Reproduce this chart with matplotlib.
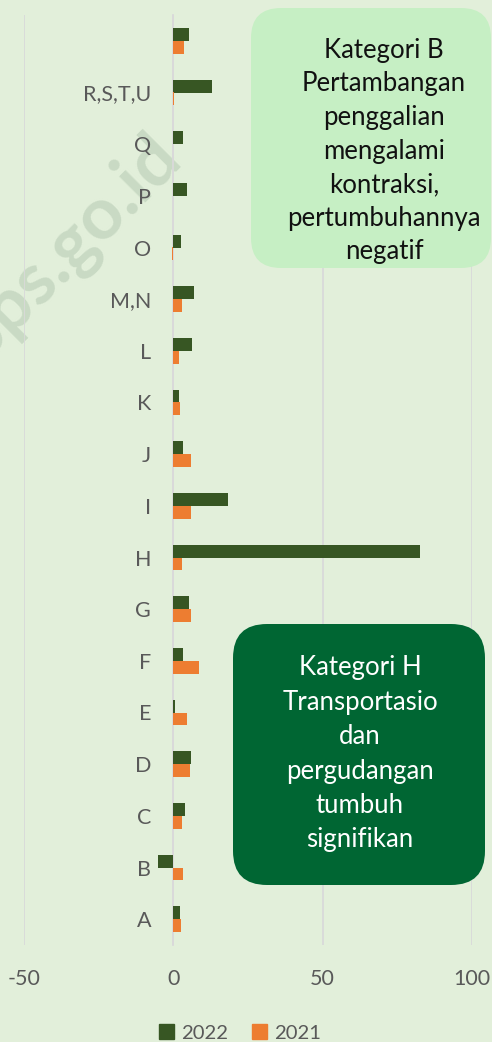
import matplotlib
matplotlib.use("Agg")
from matplotlib import pyplot as plt
from matplotlib.patches import FancyBboxPatch, Patch
from matplotlib.transforms import IdentityTransform
import numpy as np

plt.rcParams['font.family'] = ['Lato', 'DejaVu Sans']

# lapangan usaha (bawah ke atas), kategori paling atas tanpa label
categories = ['A', 'B', 'C', 'D', 'E', 'F', 'G', 'H', 'I', 'J', 'K', 'L',
              'M,N', 'O', 'P', 'Q', 'R,S,T,U', '']
v2022 = [2.3, -5.2, 4.0, 5.9, 0.7, 3.3, 5.3, 82.6, 18.4, 3.2, 2.0, 6.4,
         7.0, 2.7, 4.7, 3.4, 12.9, 5.3]
v2021 = [2.6, 3.1, 3.0, 5.6, 4.7, 8.5, 5.9, 2.9, 5.9, 5.9, 2.3, 1.9,
         2.8, -0.6, 0.0, 0.0, 0.3, 3.7]
xticks = [-50, 0, 50, 100]

bg = '#E2EFDA'
c2022 = '#375623'
c2021 = '#ED7D31'
grid_c = '#D9D9D9'
txt_c = '#595959'

W, H = 492, 1042
fig = plt.figure(figsize=(W / 100, H / 100), dpi=100, facecolor=bg)
ax = fig.add_axes([24 / W, (H - 945) / H, 448 / W, 930 / H])
ax.set_facecolor(bg)

y = np.arange(len(categories))
h = 0.25
ax.barh(y + h / 2, v2022, height=h, color=c2022, label='2022', zorder=3)
ax.barh(y - h / 2, v2021, height=h, color=c2021, label='2021', zorder=3)

ax.set_xlim(-50, 100)
ax.set_ylim(-0.5, len(categories) - 0.5)
ax.set_xticks(xticks)
ax.set_xticklabels([str(t) for t in xticks])
ax.xaxis.grid(True, color=grid_c, linewidth=1.3, zorder=0)
ax.set_yticks(y)
ax.set_yticklabels(categories)

for s in ['top', 'right', 'bottom']:
    ax.spines[s].set_visible(False)
ax.spines['left'].set_position(('data', 0))
ax.spines['left'].set_color(grid_c)
ax.spines['left'].set_linewidth(1.3)
ax.spines['left'].set_zorder(2)
ax.tick_params(axis='both', length=0, colors=txt_c, labelsize=15.5)
ax.tick_params(axis='y', pad=16)
ax.tick_params(axis='x', pad=17)

# watermark (terpotong di tepi kiri seperti aslinya), di belakang label
ax.text(68 / W, (H - 247) / H, 'bps.go.id', rotation=45, fontsize=52,
        fontweight='bold', color='#C9DAC4', ha='center', va='center',
        transform=fig.transFigure, clip_on=False, zorder=1)

# kotak keterangan
box_b = FancyBboxPatch((251, H - 268), 240, 260,
                       boxstyle='round,pad=0,rounding_size=30',
                       transform=IdentityTransform(), facecolor='#C6EFC4',
                       edgecolor='none', zorder=5)
fig.patches.append(box_b)
fig.text(384 / W, (H - 151) / H,
         'Kategori B\nPertambangan\npenggalian\nmengalami\nkontraksi,\npertumbuhannya\nnegatif',
         ha='center', va='center', fontsize=18.5, color='#111111',
         linespacing=1.43, zorder=6)

box_h = FancyBboxPatch((233, H - 885), 252, 261,
                       boxstyle='round,pad=0,rounding_size=34',
                       transform=IdentityTransform(), facecolor='#006633',
                       edgecolor='none', zorder=5)
fig.patches.append(box_h)
fig.text(360 / W, (H - 754) / H,
         'Kategori H\nTransportasio\ndan\npergudangan\ntumbuh\nsignifikan',
         ha='center', va='center', fontsize=18.5, color='white',
         linespacing=1.47, zorder=6)

handles = [Patch(color=c2022, label='2022'), Patch(color=c2021, label='2021')]
fig.legend(handles=handles, loc='center', bbox_to_anchor=(240 / W, (H - 1033) / H),
           ncol=2, frameon=False, fontsize=14.6, labelcolor=txt_c,
           handlelength=0.75, handleheight=0.75, handletextpad=0.35,
           columnspacing=1.2)

fig.savefig('out.png', dpi=100, facecolor=bg)
